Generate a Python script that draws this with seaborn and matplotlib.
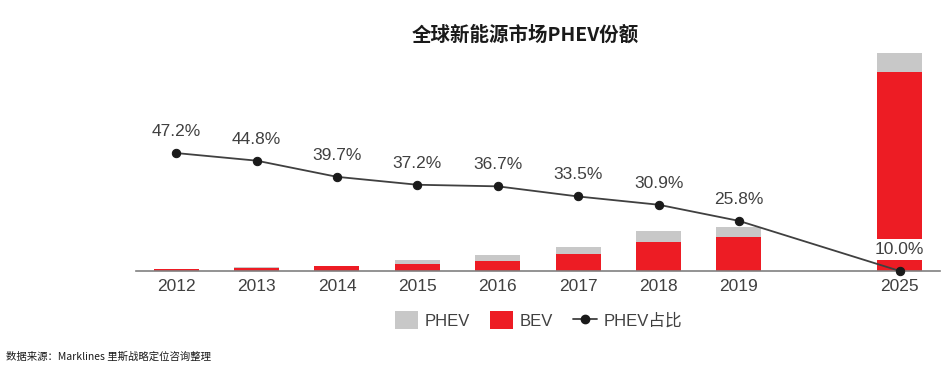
import matplotlib
matplotlib.use("Agg")
import matplotlib.pyplot as plt
import seaborn as sns
import pandas as pd
from matplotlib.patches import Patch
from matplotlib.lines import Line2D

years = ["2012", "2013", "2014", "2015", "2016", "2017", "2018", "2019", "2025"]
bev = [11, 17, 24, 36, 52, 86, 143, 168, 995]
phev = [1, 2, 3, 17, 26, 36, 57, 52, 95]
phev_share = [47.2, 44.8, 39.7, 37.2, 36.7, 33.5, 30.9, 25.8, 10.0]

sns.set_theme(style="white")
plt.rcParams["font.family"] = ["Liberation Sans", "Noto Sans CJK SC", "DejaVu Sans"]

RED = "#ED1C24"
GRAY = "#C8C8C8"
TXT = "#404040"

# x positions: consecutive years, with a gap before the forecast year
pos = [i + (1 if int(y) > 2019 else 0) for i, y in enumerate(years)]
df = pd.DataFrame({"pos": pos, "year": years, "bev": bev, "phev": phev,
                   "total": [b + p for b, p in zip(bev, phev)], "share": phev_share})

fig = plt.figure(figsize=(9.51, 3.73), dpi=100)
ax = fig.add_axes([0.143, 0.2735, 0.8454, 0.606])

sns.barplot(data=df, x="pos", y="total", native_scale=True, color=GRAY,
            width=0.56, errorbar=None, saturation=1, linewidth=0, ax=ax)
sns.barplot(data=df, x="pos", y="bev", native_scale=True, color=RED,
            width=0.56, errorbar=None, saturation=1, linewidth=0, ax=ax)

ax.set_xlim(-0.5, 9.5)
ax.set_ylim(0, 1130)
ax.set_xticks(pos)
ax.set_xticklabels(years, fontsize=12.5, color=TXT)
ax.set_yticks([])
ax.set_xlabel("")
ax.set_ylabel("")
ax.tick_params(axis="x", length=0, pad=6)
for s in ["top", "left", "right"]:
    ax.spines[s].set_visible(False)
ax.spines["bottom"].set_color("#808080")
ax.spines["bottom"].set_linewidth(1.2)

ax2 = ax.twinx()
sns.lineplot(data=df, x="pos", y="share", color="#404040", linewidth=1.3,
             marker="o", markersize=6, markerfacecolor="#1a1a1a",
             markeredgecolor="#1a1a1a", ax=ax2, clip_on=False, zorder=5)
ax2.set_ylim(10, 81.3)
ax2.set_yticks([])
ax2.set_ylabel("")
for s in ["top", "left", "right", "bottom"]:
    ax2.spines[s].set_visible(False)

for x, v in zip(pos, phev_share):
    kw = {}
    if v == phev_share[-1]:
        kw["bbox"] = dict(boxstyle="square,pad=0.15", fc="white", ec="none")
    ax2.annotate(f"{v:.1f}%", (x, v), xytext=(0, 15.5), textcoords="offset points",
                 ha="center", va="center", fontsize=12.5, color=TXT, **kw)

fig.text(0.552, 0.906, "全球新能源市场PHEV份额", ha="center", va="center",
         fontsize=14, fontweight="bold", color="#1a1a1a",
         family=["Noto Sans CJK SC", "DejaVu Sans"])

handles = [Patch(facecolor=GRAY, edgecolor="none"),
           Patch(facecolor=RED, edgecolor="none"),
           Line2D([0], [0], color="#404040", lw=1.3, marker="o",
                  markersize=6, markerfacecolor="#1a1a1a", markeredgecolor="#1a1a1a")]
fig.legend(handles, ["PHEV", "BEV", "PHEV占比"], loc="center",
           bbox_to_anchor=(0.566, 0.142), ncol=3, frameon=False,
           fontsize=12, handlelength=1.4, handleheight=1.2, columnspacing=1.2,
           handletextpad=0.4, labelcolor=TXT)

fig.text(0.006, 0.043, "数据来源：Marklines 里斯战略定位咨询整理", ha="left",
         va="center", fontsize=7.5, color="#1a1a1a",
         family=["Noto Sans CJK SC", "DejaVu Sans"])

fig.savefig("out.png", dpi=100)
